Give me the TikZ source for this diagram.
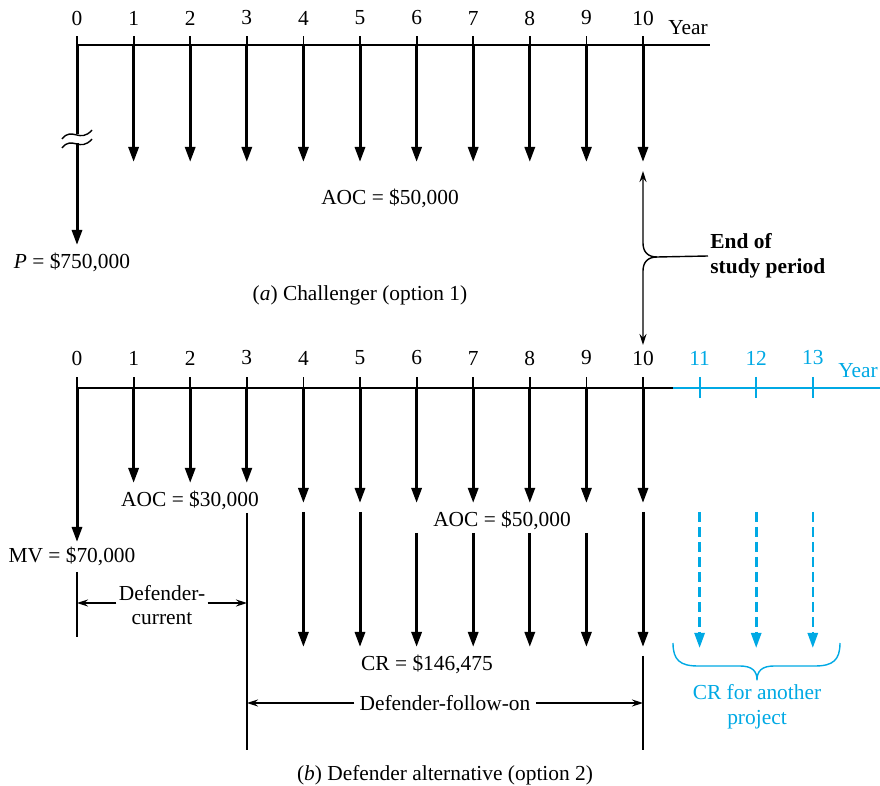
\documentclass[tikz,border=0pt]{standalone}
\usepackage{fontspec}
\setmainfont{Liberation Serif}
\usetikzlibrary{arrows.meta,calc,positioning}
\definecolor{cyanline}{RGB}{0,169,228}
\newcommand\figfont{\fontsize{10.7}{12.3}\selectfont}

\begin{document}
\begin{tikzpicture}[x=0.5pt,y=-0.5pt,font=\figfont,line join=round,
	cash/.style={line width=1.5pt,-{Triangle[length=7.5pt,width=5pt]}},
	axisline/.style={line width=0.9pt},
	dimline/.style={line width=0.7pt},
	dimarrow/.style={line width=0.7pt,-{Stealth[length=5.5pt,width=3.5pt]}},
	future/.style={cyanline,line width=1.3pt,dash pattern=on 5pt off 2.5pt,-{Triangle[length=7.5pt,width=5pt]}}]
	\useasboundingbox (0,0) rectangle (880,786);
	% (a) challenger
	\foreach \i in {0,...,10}{
		\coordinate (T\i) at ({77+56.6*\i},45);
		\node (LT\i) at ({77+56.6*\i},18) {\i};
		\draw[axisline] (T\i) -- ++(0,-9);
	}
	\coordinate (TE) at (710,45);
	\draw[axisline] (T0) -- (TE);
	\node (YT) at (688,28) {Year};
	\foreach \i in {1,...,10}{
		\coordinate (PT\i) at ({77+56.6*\i},162);
		\draw[cash] (T\i) -- (PT\i);
	}
	\coordinate (BR1) at (77,134);
	\coordinate (BR2) at (77,143);
	\coordinate (P0) at (77,245);
	\draw[line width=1.5pt] (T0) -- (BR1);
	\draw[cash] (BR2) -- (P0);
	\draw[dimline] (62,139) .. controls (72,126) and (80,144) .. (92,130);
	\draw[dimline] (62,148) .. controls (72,135) and (80,153) .. (92,139);
	\node (P) at (72,262) {\textit{P} = \$750,000};
	\node (AOCa) at (390,198) {AOC = \$50,000};
	\node (CAPa) at (360,295) {(\textit{a}) Challenger (option 1)};
	% end of study period
	\coordinate (ES1) at (643,171);
	\coordinate (ES2) at (643,345);
	\coordinate (EJ) at (657,257);
	\node[anchor=west,align=left,inner sep=1pt,font=\figfont\bfseries] (ESP) at (708,256) {End of\\study period};
	\draw[dimline,{Stealth[length=5.5pt,width=3.5pt]}-] (ES1) -- (643,243) .. controls (643,252) and (648,257) .. (EJ) -- (ESP.west);
	\draw[dimarrow] (EJ) .. controls (648,257) and (643,262) .. (643,271) -- (ES2);
	% (b) defender
	\foreach \i in {0,...,10}{
		\coordinate (B\i) at ({77+56.6*\i},388);
		\node (LB\i) at ({77+56.6*\i},358) {\i};
		\draw[axisline] (B\i) -- ++(0,-11);
	}
	\coordinate (BE) at (673,388);
	\coordinate (CE) at (880,388);
	\draw[axisline] (B0) -- (BE);
	\draw[axisline,cyanline] (BE) -- (CE);
	\foreach \i in {11,12,13}{
		\coordinate (B\i) at ({77+56.6*\i},388);
		\node[text=cyanline] (LB\i) at ({77+56.6*\i},358) {\i};
		\draw[axisline,cyanline] ($(B\i)+(0,-11)$) -- ($(B\i)+(0,10)$);
		\coordinate (F\i) at ({77+56.6*\i},512);
		\coordinate (G\i) at ({77+56.6*\i},648);
		\draw[future] (F\i) -- (G\i);
	}
	\node[text=cyanline] (YB) at (858,371) {Year};
	\coordinate (M0) at (77,542);
	\draw[cash] (B0) -- (M0);
	\foreach \i in {1,2,3}{
		\coordinate (Q\i) at ({77+56.6*\i},483);
		\draw[cash] (B\i) -- (Q\i);
	}
	\foreach \i in {4,...,10}{
		\coordinate (Q\i) at ({77+56.6*\i},503);
		\draw[cash] (B\i) -- (Q\i);
	}
	\foreach \i/\s in {4/512,5/512,6/533,7/533,8/533,9/533,10/512}{
		\coordinate (R\i) at ({77+56.6*\i},\s);
		\coordinate (S\i) at ({77+56.6*\i},647);
		\draw[cash] (R\i) -- (S\i);
	}
	\node (AOCb) at (190,500) {AOC = \$30,000};
	\node (MV) at (72,556) {MV = \$70,000};
	\node (AOCc) at (502,520) {AOC = \$50,000};
	\node (CR) at (427,664) {CR = \$146,475};
	% periods
	\coordinate (V0a) at (77,572);
	\coordinate (V0b) at (77,637);
	\coordinate (V3a) at (247,513);
	\coordinate (V3b) at (247,750);
	\coordinate (V10a) at (643,656);
	\coordinate (V10b) at (643,750);
	\draw[dimline] (V0a) -- (V0b);
	\draw[dimline] (V3a) -- (V3b);
	\draw[dimline] (V10a) -- (V10b);
	\node[align=center,inner sep=1pt] (DCUR) at (162,605) {Defender-\\current};
	\draw[dimarrow] (DCUR.west |- 0,603) -- (V0a |- 0,603);
	\draw[dimarrow] (DCUR.east |- 0,603) -- (V3a |- 0,603);
	\node[inner sep=2.5pt] (DFOL) at (445,703) {Defender-follow-on};
	\draw[dimarrow] (DFOL.west) -- (V3a |- DFOL);
	\draw[dimarrow] (DFOL.east) -- (V10a |- DFOL);
	\node (CAPb) at (445,775) {(\textit{b}) Defender alternative (option 2)};
	% another project
	\draw[dimline,cyanline] (673,643) .. controls (673,660) and (680,666) .. (698,666) -- (740,666) .. controls (752,666) and (757,671) .. (757,680) .. controls (757,671) and (762,666) .. (774,666) -- (815,666) .. controls (833,666) and (840,660) .. (840,643);
	\node[text=cyanline,align=center] (CRP) at (757,707) {CR for another\\project};
\end{tikzpicture}
\end{document}
